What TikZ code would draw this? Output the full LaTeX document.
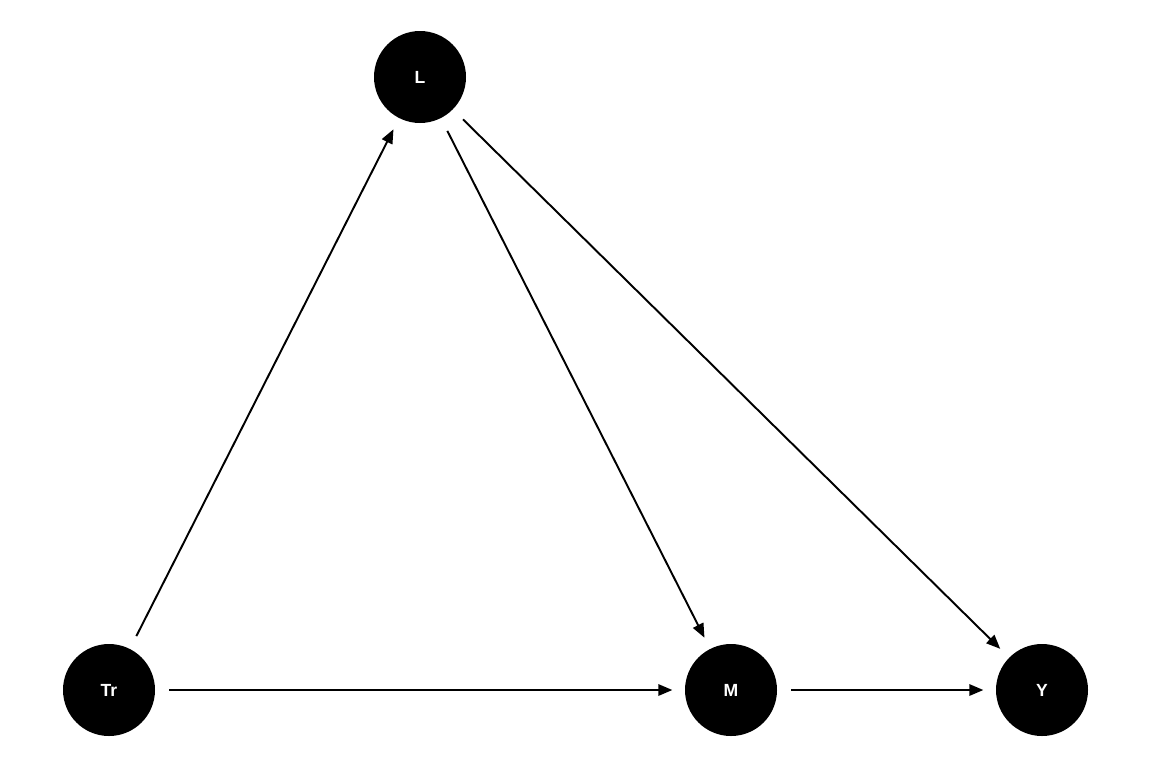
\documentclass[tikz,border=0pt]{standalone}
\usepackage{fontspec}
\setmainfont{Liberation Sans}
\usetikzlibrary{arrows.meta}
\begin{document}
\begin{tikzpicture}[x=0.02cm,y=-0.02cm,
  nd/.style={circle,fill=black,minimum size=92*0.02cm,inner sep=0pt,text=white,font=\bfseries\fontsize{10}{12}\selectfont},
  ar/.style={line width=1.1pt,-{Triangle[length=8pt,width=6.5pt]},shorten <=8pt,shorten >=7pt}]
\useasboundingbox (0,0) rectangle (1152,768);
\node[nd] (L) at (420,77) {L};
\node[nd] (Tr) at (109,690) {Tr};
\node[nd] (M) at (731,690) {M};
\node[nd] (Y) at (1042,690) {Y};
\draw[ar] (Tr) -- (L);
\draw[ar] (Tr) -- (M);
\draw[ar] (L) -- (M);
\draw[ar] (L) -- (Y);
\draw[ar] (M) -- (Y);
\end{tikzpicture}
\end{document}
